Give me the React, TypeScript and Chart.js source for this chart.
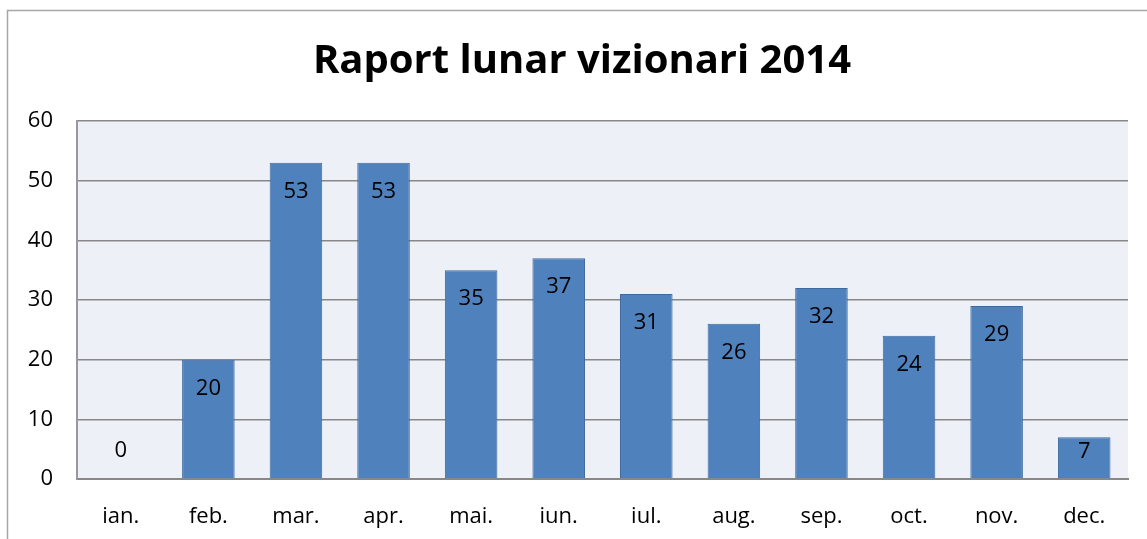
import React, { useEffect, useRef } from "react";
import { Chart, registerables } from "chart.js";
Chart.register(...registerables);

const chartTitle = "Raport lunar vizionari 2014";
const months = ["ian.", "feb.", "mar.", "apr.", "mai.", "iun.", "iul.", "aug.", "sep.", "oct.", "nov.", "dec."];
const viewers = [0, 20, 53, 53, 35, 37, 31, 26, 32, 24, 29, 7];
const yMin = 0;
const yMax = 60;
const yStep = 10;

const FONT = "'Open Sans', 'DejaVu Sans', sans-serif";

const decorPlugin = {
  id: "decor",
  beforeDraw(chart: any) {
    const { ctx, chartArea } = chart;
    ctx.save();
    ctx.fillStyle = "#ffffff";
    ctx.fillRect(0, 0, chart.width, chart.height);
    // outer frame
    ctx.strokeStyle = "#a6a6a6";
    ctx.lineWidth = 1.5;
    ctx.beginPath();
    ctx.moveTo(7.5, chart.height);
    ctx.lineTo(7.5, 10.5);
    ctx.lineTo(chart.width, 10.5);
    ctx.stroke();
    // plot background
    ctx.fillStyle = "#edf1f7";
    ctx.fillRect(chartArea.left, chartArea.top, chartArea.right - chartArea.left, chartArea.bottom - chartArea.top);
    // title
    ctx.fillStyle = "#000000";
    ctx.font = "bold 40px " + FONT;
    ctx.textAlign = "center";
    ctx.textBaseline = "middle";
    ctx.fillText(chartTitle, 582, 62);
    ctx.restore();
  },
  afterDatasetsDraw(chart: any) {
    const { ctx } = chart;
    const meta = chart.getDatasetMeta(0);
    ctx.save();
    ctx.fillStyle = "#000000";
    ctx.font = "22px " + FONT;
    ctx.textAlign = "center";
    ctx.textBaseline = "middle";
    meta.data.forEach((bar: any, i: number) => {
      const v = viewers[i];
      const h = bar.base - bar.y;
      let ty;
      if (v === 0) ty = bar.base - 28;
      else ty = bar.y + Math.min(29, h / 2 - 6);
      ctx.fillText(String(v), bar.x, ty);
    });
    ctx.restore();
  },
};

export default function App() {
  const ref = useRef<HTMLCanvasElement>(null);
  useEffect(() => {
    if (!ref.current) return;
    const chart = new Chart(ref.current, {
      type: "bar",
      data: {
        labels: months,
        datasets: [
          {
            data: viewers,
            backgroundColor: "#4f81bd",
            borderColor: "#3d6a9e",
            borderWidth: 1,
            barPercentage: 0.6,
            categoryPercentage: 1,
          },
        ],
      },
      options: {
        responsive: false,
        animation: false,
        devicePixelRatio: 1,
        layout: { padding: { top: 121, left: 0, right: 19, bottom: 0 } },
        plugins: { legend: { display: false }, title: { display: false }, tooltip: { enabled: false } },
        scales: {
          x: {
            grid: { display: false, drawTicks: false },
            border: { display: true, color: "#888888", width: 2 },
            ticks: { color: "#000000", font: { family: FONT, size: 22 }, padding: 25 },
            afterFit: (s: any) => { s.height = 60; },
          },
          y: {
            min: yMin,
            max: yMax,
            grid: { color: "#888888", lineWidth: 1.5, drawTicks: false },
            border: { display: true, color: "#999999", width: 2 },
            ticks: { stepSize: yStep, color: "#000000", font: { family: FONT, size: 22 }, padding: 24 },
            afterFit: (s: any) => { s.width = 77; },
          },
        },
      },
      plugins: [decorPlugin],
    });
    return () => chart.destroy();
  }, []);
  return (
    <div style={{ position: "absolute", left: 0, top: 0, width: 1147, height: 539 }}>
      <canvas ref={ref} width={1147} height={539} style={{ display: "block" }} />
    </div>
  );
}
